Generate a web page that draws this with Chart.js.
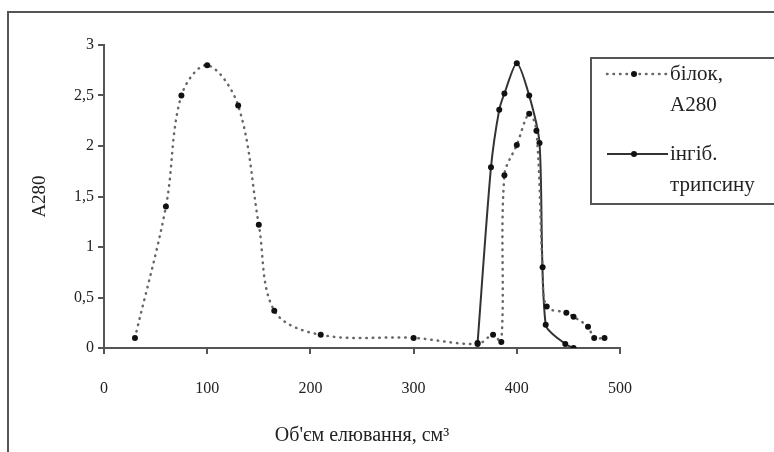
<!DOCTYPE html>
<html>
<head>
<meta charset="utf-8">
<script src="https://cdn.jsdelivr.net/npm/chart.js@4.4.1/dist/chart.umd.min.js"></script>
<style>
  html, body { margin: 0; padding: 0; background: #fff; overflow: hidden; }
</style>
</head>
<body>
<canvas id="chart" width="774" height="452"></canvas>
<script>
const proteinX = [30, 60, 75, 100, 130, 150, 165, 210, 300, 362, 377, 385, 388, 400, 412, 419, 425, 429, 448, 455, 469, 475, 485];
const proteinY = [0.1, 1.4, 2.5, 2.8, 2.4, 1.22, 0.37, 0.13, 0.1, 0.04, 0.13, 0.06, 1.71, 2.01, 2.32, 2.15, 0.8, 0.41, 0.35, 0.31, 0.21, 0.1, 0.1];

const inhibitorX = [362, 375, 383, 388, 400, 412, 422, 428, 447, 455];
const inhibitorY = [0.05, 1.79, 2.36, 2.52, 2.82, 2.5, 2.03, 0.23, 0.04, 0.0];

const xTicks = [0, 100, 200, 300, 400, 500];
const yTicks = [0, 0.5, 1, 1.5, 2, 2.5, 3];

const legendLabels = [["білок,", "A280"], ["інгіб.", "трипсину"]];

const serif = "'Liberation Serif', 'DejaVu Serif', serif";
const axisColor = "#555";

function toPoints(xs, ys) {
  return xs.map((x, i) => ({ x: x, y: ys[i] }));
}

// outer frame and the legend box, drawn like the original figure
const framePlugin = {
  id: "frame",
  beforeDraw(chart) {
    const ctx = chart.ctx;
    ctx.save();
    ctx.fillStyle = "#fff";
    ctx.fillRect(0, 0, chart.width, chart.height);
    ctx.strokeStyle = axisColor;
    ctx.lineWidth = 2;
    ctx.strokeRect(8, 12, 820, 520);
    ctx.restore();
  },
  afterDraw(chart) {
    const ctx = chart.ctx;
    ctx.save();
    ctx.strokeStyle = axisColor;
    ctx.lineWidth = 2;
    ctx.strokeRect(591, 58, 260, 146);

    const rows = [74, 154];
    chart.data.datasets.forEach((ds, i) => {
      const y = rows[i];
      ctx.beginPath();
      ctx.strokeStyle = ds.borderColor;
      ctx.lineWidth = ds.borderWidth;
      ctx.lineCap = ds.borderCapStyle || "butt";
      ctx.setLineDash(ds.borderDash || []);
      ctx.moveTo(607, y);
      ctx.lineTo(668, y);
      ctx.stroke();
      ctx.setLineDash([]);
      ctx.beginPath();
      ctx.fillStyle = ds.pointBackgroundColor;
      ctx.arc(634, y, 3, 0, Math.PI * 2);
      ctx.fill();

      ctx.fillStyle = "#222";
      ctx.font = "21px " + serif;
      ctx.textBaseline = "middle";
      ctx.fillText(legendLabels[i][0], 670, y);
      ctx.fillText(legendLabels[i][1], 670, y + 31);
    });
    ctx.restore();
  }
};

new Chart(document.getElementById("chart"), {
  type: "line",
  data: {
    datasets: [
      {
        label: legendLabels[0].join(" "),
        data: toPoints(proteinX, proteinY),
        borderColor: "#666",
        borderWidth: 2.5,
        borderDash: [0.5, 6],
        borderCapStyle: "round",
        pointRadius: 3,
        pointBackgroundColor: "#111",
        pointBorderColor: "#111",
        pointBorderWidth: 0,
        tension: 0.35,
        fill: false
      },
      {
        label: legendLabels[1].join(" "),
        data: toPoints(inhibitorX, inhibitorY),
        borderColor: "#333",
        borderWidth: 2,
        pointRadius: 3,
        pointBackgroundColor: "#111",
        pointBorderColor: "#111",
        pointBorderWidth: 0,
        tension: 0.25,
        fill: false
      }
    ]
  },
  options: {
    responsive: false,
    animation: false,
    devicePixelRatio: 1,
    layout: { padding: { left: 0, top: 45, right: 154, bottom: 0 } },
    plugins: {
      legend: { display: false },
      tooltip: { enabled: false }
    },
    scales: {
      x: {
        type: "linear",
        min: 0,
        max: 500,
        afterBuildTicks: (scale) => { scale.ticks = xTicks.map(v => ({ value: v })); },
        afterFit: (scale) => { scale.height = 104; },
        ticks: {
          color: "#222",
          font: { family: serif, size: 16 },
          padding: 25,
          maxRotation: 0
        },
        grid: { display: true, drawOnChartArea: false, drawTicks: true, tickLength: 6, color: axisColor, lineWidth: 2 },
        border: { display: true, color: axisColor, width: 2 },
        title: {
          display: true,
          text: "Об'єм елювання, см³",
          color: "#222",
          font: { family: serif, size: 20 },
          padding: { top: 0, bottom: 4 }
        }
      },
      y: {
        type: "linear",
        min: 0,
        max: 3,
        afterBuildTicks: (scale) => { scale.ticks = yTicks.map(v => ({ value: v })); },
        afterFit: (scale) => { scale.width = 104; },
        ticks: {
          color: "#222",
          font: { family: serif, size: 16 },
          padding: 4,
          callback: (v) => String(v).replace(".", ",")
        },
        grid: { display: true, drawOnChartArea: false, drawTicks: true, tickLength: 6, color: axisColor, lineWidth: 2 },
        border: { display: true, color: axisColor, width: 2 },
        title: {
          display: true,
          text: "A280",
          color: "#222",
          font: { family: serif, size: 19 },
          padding: { top: 29, bottom: 0 }
        }
      }
    }
  },
  plugins: [framePlugin]
});
</script>
</body>
</html>
